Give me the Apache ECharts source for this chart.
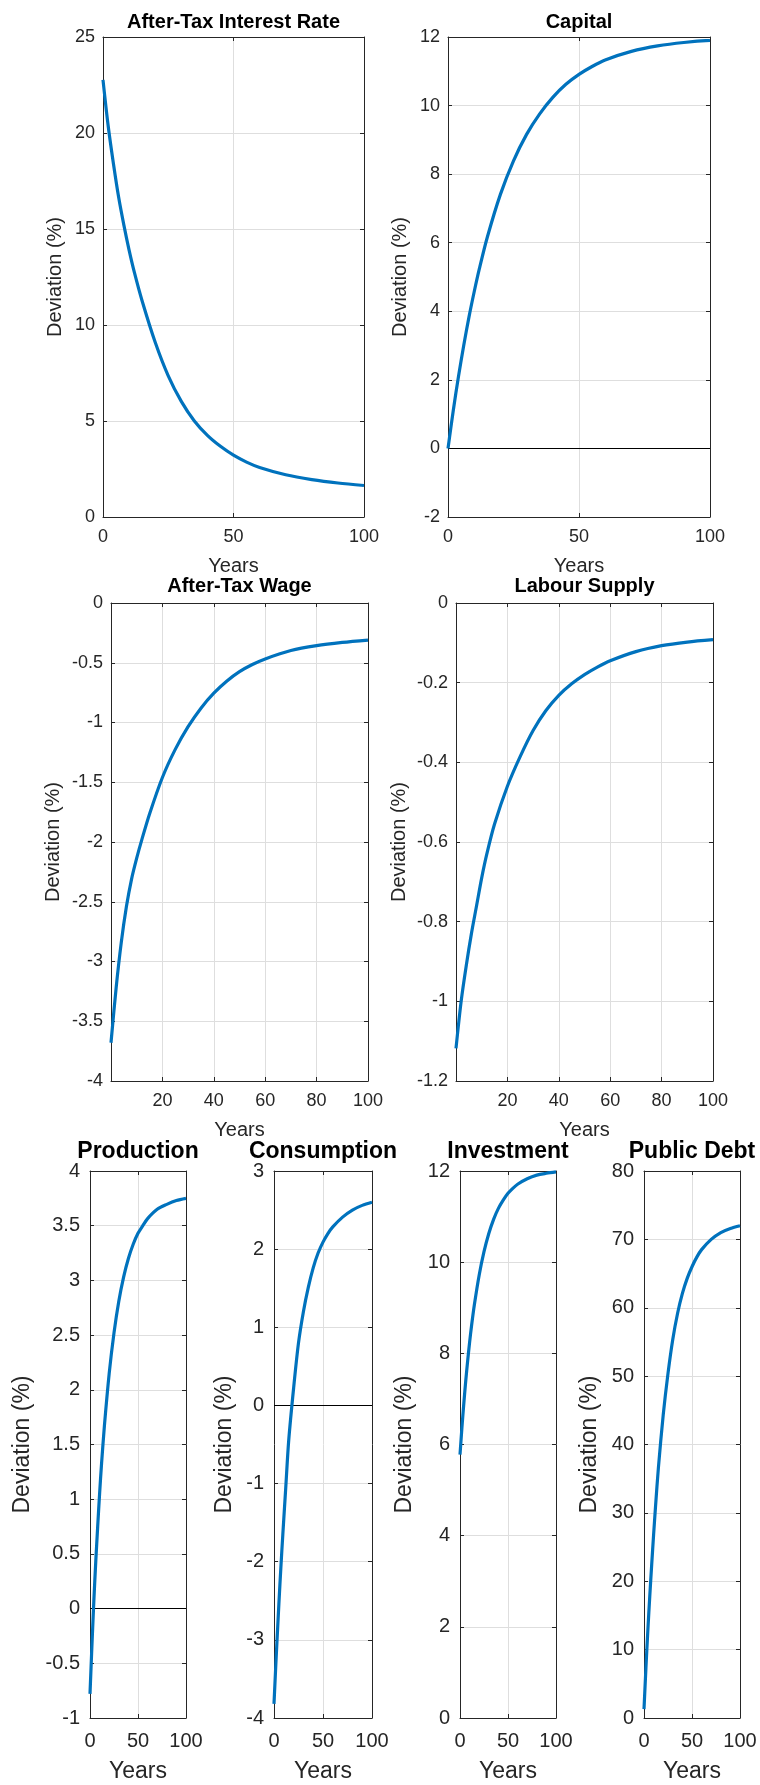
<!DOCTYPE html>
<html>
<head>
<meta charset="utf-8">
<script src="https://cdn.jsdelivr.net/npm/echarts@6/dist/echarts.min.js"></script>
<style>
html,body{margin:0;padding:0;background:#fff;}
#chart{width:760px;height:1785px;}
</style>
</head>
<body>
<div id="chart"></div>
<script>
// ---- data ----
const years = [0, 2, 4, 6, 8, 10, 12, 15, 20, 25, 30, 35, 40, 45, 50, 55, 60, 70, 80, 90, 100];
const interestRate = [22.77, 20.35, 18.4, 16.65, 15.2, 13.9, 12.75, 11.25, 9.1, 7.35, 6.02, 5.0, 4.25, 3.68, 3.22, 2.86, 2.58, 2.2, 1.95, 1.77, 1.64];
const capital = [0, 1.10, 2.10, 3.00, 3.83, 4.57, 5.25, 6.16, 7.41, 8.39, 9.16, 9.76, 10.24, 10.62, 10.91, 11.14, 11.33, 11.58, 11.74, 11.84, 11.90];
const afterTaxWage = [-3.68, -3.22, -2.84, -2.54, -2.31, -2.135, -1.98, -1.765, -1.46, -1.225, -1.035, -0.88, -0.755, -0.655, -0.575, -0.515, -0.468, -0.398, -0.357, -0.33, -0.31];
const labourSupply = [-1.118, -1.0, -0.91, -0.83, -0.76, -0.69, -0.63, -0.555, -0.46, -0.385, -0.32, -0.27, -0.232, -0.203, -0.180, -0.161, -0.145, -0.122, -0.107, -0.098, -0.092];
const production = [-0.78, -0.34, 0.07, 0.43, 0.75, 1.05, 1.32, 1.67, 2.15, 2.52, 2.81, 3.03, 3.20, 3.33, 3.43, 3.50, 3.565, 3.65, 3.695, 3.73, 3.75];
const consumption = [-3.82, -3.28, -2.78, -2.30, -1.86, -1.45, -1.05, -0.45, 0.22, 0.80, 1.20, 1.51, 1.76, 1.95, 2.09, 2.20, 2.285, 2.41, 2.50, 2.56, 2.60];
const investment = [5.78, 6.37, 6.91, 7.40, 7.84, 8.24, 8.60, 9.07, 9.72, 10.23, 10.63, 10.94, 11.18, 11.36, 11.51, 11.62, 11.71, 11.83, 11.91, 11.95, 11.98];
const publicDebt = [1.3, 7.3, 12.8, 17.8, 22.4, 26.8, 30.9, 36.6, 44.3, 50.4, 55.4, 59.2, 62.1, 64.3, 66.0, 67.4, 68.5, 70.0, 71.0, 71.6, 72.0];

const titles = ['After-Tax Interest Rate', 'Capital', 'After-Tax Wage', 'Labour Supply', 'Production', 'Consumption', 'Investment', 'Public Debt'];
const seriesValues = [interestRate, capital, afterTaxWage, labourSupply, production, consumption, investment, publicDebt];
const yMin = [0, -2, -4, -1.2, -1, -4, 0, 0];
const yMax = [25, 12, 0, 0, 4, 3, 12, 80];
const yStep = [5, 2, 0.5, 0.2, 0.5, 1, 2, 10];
const xStep = [50, 50, 20, 20, 50, 50, 50, 50];
const hasZeroLine = [false, true, false, false, true, true, false, false];
const xLabel = 'Years';
const yLabel = 'Deviation (%)';

// ---- layout (pixels) ----
const layout = [
  {l:103, t:37, w:261, h:480, tx:233.5, ty:22, yGap:38, xGap:39, row:0},
  {l:448, t:37, w:262, h:480, tx:579, ty:22, yGap:38, xGap:39, row:0},
  {l:111, t:603, w:257, h:478, tx:239.5, ty:586, yGap:48, xGap:39, row:1},
  {l:456, t:603, w:257, h:478, tx:584.5, ty:586, yGap:47, xGap:39, row:1},
  {l:90, t:1171, w:96, h:547, tx:138, ty:1152, yGap:56, xGap:42, row:2},
  {l:274, t:1171, w:98, h:547, tx:323, ty:1152, yGap:38, xGap:42, row:2},
  {l:460, t:1171, w:96, h:547, tx:508, ty:1152, yGap:44, xGap:42, row:2},
  {l:644, t:1171, w:96, h:547, tx:692, ty:1152, yGap:43, xGap:42, row:2}
];
const FONT = '"Liberation Sans", Arial, Helvetica, sans-serif';
const AX = '#262626';
const GRID = '#dedede';
const BLUE = '#0072BD';

const grid = [], xAxis = [], yAxis = [], series = [], graphics = [];
layout.forEach((p, i) => {
  const big = p.row === 2;
  const tickFs = big ? 20 : 18;
  const nameFs = big ? 23 : 20;
  const titleFs = big ? 23 : 20;
  grid.push({left: p.l, top: p.t, width: p.w, height: p.h, containLabel: false});
  const axLine = {show: true, onZero: false, lineStyle: {color: AX, width: 1}};
  const tick = {show: true, inside: true, length: 4, lineStyle: {color: AX, width: 1}};
  const hideZero = xStep[i] === 20;
  xAxis.push({
    gridIndex: i, type: 'value', position: 'bottom', min: 0, max: 100, interval: xStep[i],
    axisLine: axLine, axisTick: tick,
    axisLabel: {color: AX, fontSize: tickFs, fontFamily: FONT, margin: big ? 13 : 11, showMinLabel: true, showMaxLabel: true,
      formatter: v => (hideZero && v === 0) ? '' : String(v)},
    splitLine: {show: true, lineStyle: {color: GRID, width: 1}},
    name: xLabel, nameLocation: 'middle', nameGap: p.xGap,
    nameTextStyle: {color: AX, fontSize: nameFs, fontFamily: FONT}
  });
  xAxis.push({
    gridIndex: i, type: 'value', position: 'top', min: 0, max: 100, interval: xStep[i],
    axisLine: axLine, axisTick: tick, axisLabel: {show: false}, splitLine: {show: false}
  });
  yAxis.push({
    gridIndex: i, type: 'value', position: 'left', min: yMin[i], max: yMax[i], interval: yStep[i],
    axisLine: axLine, axisTick: tick,
    axisLabel: {color: AX, fontSize: tickFs, fontFamily: FONT, margin: big ? 10 : 8, showMinLabel: true, showMaxLabel: true},
    splitLine: {show: true, lineStyle: {color: GRID, width: 1}},
    name: yLabel, nameLocation: 'middle', nameGap: p.yGap,
    nameTextStyle: {color: AX, fontSize: nameFs, fontFamily: FONT}
  });
  yAxis.push({
    gridIndex: i, type: 'value', position: 'right', min: yMin[i], max: yMax[i], interval: yStep[i],
    axisLine: axLine, axisTick: tick, axisLabel: {show: false}, splitLine: {show: false}
  });
  const s = {
    type: 'line', xAxisIndex: 2 * i, yAxisIndex: 2 * i,
    data: years.map((x, j) => [x, seriesValues[i][j]]),
    showSymbol: false, symbol: 'none', smooth: 0.3,
    lineStyle: {color: BLUE, width: 3.2, cap: 'butt', join: 'round'}, itemStyle: {color: BLUE},
    z: 3, animation: false, silent: true
  };
  if (hasZeroLine[i]) {
    s.markLine = {silent: true, symbol: ['none', 'none'], label: {show: false}, animation: false,
      lineStyle: {color: '#000', type: 'solid', width: 1}, data: [{yAxis: 0}], z: 2};
  }
  series.push(s);
  graphics.push({
    type: 'text', x: p.tx, y: p.ty,
    style: {text: titles[i], fill: '#000', font: 'bold ' + titleFs + 'px ' + FONT,
      align: 'center', verticalAlign: 'middle'}
  });
});

const chart = echarts.init(document.getElementById('chart'), null, {renderer: 'canvas', width: 760, height: 1785});
chart.setOption({
  backgroundColor: '#ffffff',
  animation: false,
  grid, xAxis, yAxis, series,
  graphic: {elements: graphics}
});
</script>
</body>
</html>
